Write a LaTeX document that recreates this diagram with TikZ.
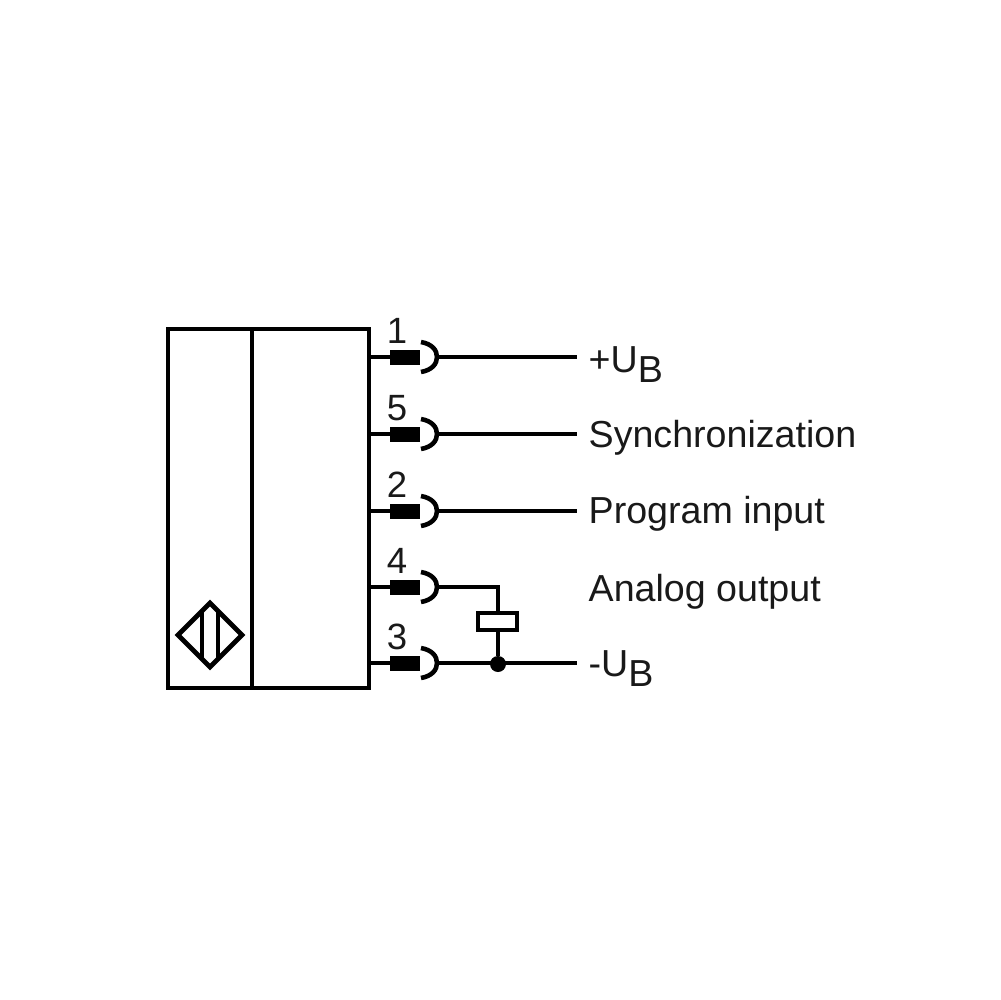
\documentclass[tikz,border=0pt]{standalone}
\usepackage{fontspec}
\setmainfont{Liberation Sans}
\begin{document}
\begin{tikzpicture}[x=0.1mm,y=-0.1mm,
  box/.style={draw=black,line width=1.35pt,fill=white,minimum width=0,inner sep=0},
  wire/.style={draw=black,line width=1.15pt},
  plug/.style={fill=black,draw=none,minimum width=3mm,minimum height=1.5mm,inner sep=0,outer sep=0},
  cup/.style={draw=black,line width=1.3pt},
  lbl/.style={anchor=base west,inner sep=0,font=\fontsize{10.7pt}{12pt}\selectfont,text=black!90},
  pin/.style={anchor=base,inner sep=0,font=\fontsize{10.4pt}{12pt}\selectfont,text=black!90}]
\useasboundingbox (0,0) rectangle (1000,1000);
\coordinate (tl) at (168,329);
\coordinate (br) at (369,688);
\coordinate (dt) at (252,329);
\coordinate (db) at (252,688);
\draw[box] (tl) rectangle (br);
\draw[box] (dt) -- (db);
% sensor symbol
\coordinate (dT) at (210,603);
\coordinate (dR) at (242,635);
\coordinate (dB) at (210,667);
\coordinate (dL) at (178,635);
\draw[box,line join=miter,fill=none] (dT) -- (dR) -- (dB) -- (dL) -- cycle;
\coordinate (i1t) at (202,611);
\coordinate (i1b) at (202,659);
\coordinate (i2t) at (218,611);
\coordinate (i2b) at (218,659);
\draw[wire] (i1t) -- (i1b);
\draw[wire] (i2t) -- (i2b);
% terminals
\foreach \n/\y/\lab in {a/357/1,b/434/5,c/511/2,d/587/4,e/663/3}{
  \coordinate (s\n) at (369,\y);
  \node[plug] (p\n) at (404.5,\y) {};
  \coordinate (c\n) at (437,\y);
  \draw[wire] (s\n) -- (p\n);
  \draw[cup] (421,\y-15) .. controls (432,\y-13) and (437,\y-7) .. (c\n) .. controls (437,\y+7) and (432,\y+13) .. (421,\y+15);
  \node[pin] (n\n) at (397,\y-14) {\lab};
}
\coordinate (ea) at (577,357);
\coordinate (eb) at (577,434);
\coordinate (ec) at (577,511);
\coordinate (ee) at (577,663);
\draw[wire] (ca) -- (ea);
\draw[wire] (cb) -- (eb);
\draw[wire] (cc) -- (ec);
\draw[wire] (ce) -- (ee);
% load
\node[circle,fill=black,minimum size=1.6mm,inner sep=0,outer sep=0] (dot) at (498,664) {};
\coordinate (bend) at (498,587);
\draw[wire] (cd) -- (bend) -- (dot);
\node[draw=black,line width=1.15pt,fill=white,minimum width=3.85mm,minimum height=1.75mm,inner sep=0] (load) at (497.5,621.5) {};
% labels
\node[lbl] (l1) at (588,372) {+U\raisebox{-2.9pt}{B}};
\node[lbl] (l2) at (588,447) {Synchronization};
\node[lbl] (l3) at (588,523) {Program input};
\node[lbl] (l4) at (588,601) {Analog output};
\node[lbl] (l5) at (588,676) {-U\raisebox{-2.9pt}{B}};
\end{tikzpicture}
\end{document}
